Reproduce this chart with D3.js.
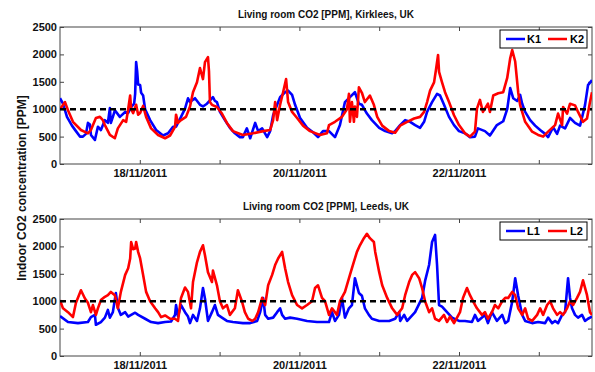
<!DOCTYPE html>
<html><head><meta charset="utf-8">
<script src="https://cdn.jsdelivr.net/npm/d3@7"></script>
<style>
html,body{margin:0;padding:0;background:#fff;}
text{font-family:"Liberation Sans",Arial,sans-serif;}
</style></head>
<body><svg id="chart" width="595" height="372"></svg>
<script>
// hours since 17/11/2011 00:00 and CO2 ppm values
const k1Hours = [0,0.9,2.1,3.6,4.8,6.0,6.9,7.8,8.4,9.0,9.3,10.5,11.4,12.3,13.5,14.4,15.0,15.3,15.9,16.5,18.0,19.6,20.5,21.4,22.3,22.6,22.9,23.2,23.5,24.1,24.4,25.0,25.6,27.1,28.9,31.0,32.5,34.0,34.9,36.4,37.6,38.5,39.1,40.6,42.1,43.0,44.2,46.0,46.6,47.2,48.1,49.6,51.1,52.6,54.1,55.0,56.2,57.2,58.7,59.6,60.8,62.3,63.2,64.1,65.3,66.2,67.7,68.6,69.8,70.7,72.2,74.3,76.1,77.6,79.1,80.9,82.7,84.2,85.7,87.2,88.7,89.9,90.8,92.3,93.8,96.0,97.8,99.9,100.8,102.3,103.8,105.3,106.8,108.3,109.5,110.4,111.9,113.4,114.3,115.5,117.0,118.5,120.0,121.8,123.3,124.8,125.7,127.8,129.3,131.4,133.3,134.5,135.4,136.3,137.5,138.4,139.0,139.9,141.4,142.9,144.4,145.9,146.8,148.3,149.5,150.4,151.9,153.4,154.9,156.4,157.9,158.8,160.0];
const k1Values = [1200,1100,860,700,600,500,500,550,750,720,530,440,680,620,800,750,1020,750,860,980,860,950,930,1040,1100,1280,1860,1700,1450,1440,1300,1250,1000,800,620,520,560,680,680,860,1010,1200,1130,1200,1080,1050,1100,1220,1150,1130,950,800,660,560,490,490,650,470,750,600,650,490,600,890,1080,1220,1310,1340,1260,1080,840,660,580,490,600,600,490,710,1130,1220,1310,1100,1080,920,800,660,600,560,600,710,800,770,710,660,770,950,1130,1280,1250,1080,860,710,600,560,490,500,650,600,520,710,780,1000,1385,1200,1150,1260,1100,950,800,700,620,550,490,670,550,700,650,840,750,700,1075,1440,1530];

const k2Hours = [0,1.5,2.4,3.9,6.3,8.4,9.3,10.8,12.0,12.9,13.5,15.0,16.5,17.4,19.0,19.9,20.5,21.1,21.4,22.0,22.9,23.5,24.1,25.0,25.9,27.4,29.5,31.6,33.1,34.6,34.9,35.5,36.4,37.9,39.1,40.0,41.2,42.1,43.0,43.6,44.5,44.8,45.1,45.7,47.2,48.7,50.2,52.0,55.0,58.1,61.1,63.2,64.1,64.7,65.3,66.2,67.1,68.0,68.6,69.8,71.3,73.1,75.2,78.2,80.3,80.9,82.7,84.8,86.3,86.9,87.2,87.8,88.4,88.7,89.3,89.9,90.8,91.7,93.2,94.4,95.4,96.9,99.0,100.8,102.3,104.4,106.5,108.3,109.5,110.4,111.3,112.5,113.1,113.7,114.0,114.9,115.8,117.0,118.5,120.0,121.8,123.3,124.8,125.4,126.3,127.2,128.7,129.3,130.3,131.8,133.3,134.5,135.4,136.0,136.9,137.8,138.4,139.9,142.0,143.8,145.3,146.8,148.9,149.8,151.0,151.3,152.5,153.4,154.9,155.8,157.3,158.5,159.4,160.0];
const k2Values = [1000,1130,980,770,620,560,620,840,860,800,710,530,470,650,800,770,1000,1250,1000,930,1080,900,930,1060,860,650,530,470,520,680,900,750,800,860,1050,1310,1490,1750,1550,1860,1950,1700,1130,1080,1040,920,750,600,530,560,600,620,800,1130,800,1080,1310,1550,1130,950,840,700,600,530,560,710,770,860,1000,1280,770,1130,770,1050,860,1400,1300,1130,1250,1080,860,700,600,570,700,770,830,860,950,1130,1340,1490,1730,1990,1680,1490,1310,1130,890,710,560,500,590,1010,1170,950,1100,950,1250,1290,1310,1570,1930,2080,1870,1310,1070,770,590,530,500,590,710,920,710,1040,920,1100,1070,950,770,830,1130,1310];

const l1Hours = [0,2.4,5.4,8.4,9.3,10.5,10.8,12.3,13.5,14.4,15.0,15.9,16.8,17.4,18.3,19.6,20.5,21.4,22.6,23.5,25.6,27.4,29.5,31.6,33.4,34.6,34.9,35.5,36.4,37.6,38.5,39.1,40.0,41.2,42.1,43.0,43.6,44.5,45.7,46.6,47.5,48.7,50.2,52.0,55.0,57.2,59.3,60.2,61.1,61.7,62.6,64.1,65.3,66.2,66.8,67.7,69.2,71.3,74.3,77.3,80.9,81.8,82.7,83.9,84.8,85.7,86.9,87.8,88.7,89.9,90.8,91.7,92.9,93.8,96.0,99.0,100.8,102.0,102.3,103.5,104.4,105.3,106.8,108.9,109.8,111.0,111.9,112.8,113.4,114.0,114.9,116.4,117.9,120.0,121.8,123.9,124.8,125.7,127.8,128.7,129.9,131.4,133.0,133.9,134.8,136.0,136.9,137.8,139.0,139.9,142.0,143.8,145.9,146.8,148.0,148.9,149.8,151.0,151.9,152.8,153.4,154.0,154.9,155.8,157.0,157.9,158.8,160.0];
const l1Values = [730,620,600,620,710,750,570,620,700,840,700,800,1150,880,750,800,720,750,790,750,680,620,600,620,630,750,930,720,930,800,720,600,750,640,870,1240,1050,640,800,930,750,700,640,620,600,600,640,800,1060,750,680,700,800,870,750,680,700,680,640,620,620,800,640,750,1060,700,870,930,1420,1150,1100,870,750,680,640,640,680,800,640,750,640,700,800,1060,1370,1660,2080,2210,1660,930,900,800,700,640,640,620,750,640,750,600,800,640,750,600,640,990,1420,1100,750,640,600,620,600,700,600,640,600,750,800,1420,1060,870,750,700,750,640,680,720];

const l2Hours = [0,0.9,2.4,3.9,4.8,6.3,7.5,8.4,9.3,9.9,10.8,11.4,12.3,13.5,14.4,15.3,16.5,17.4,18.3,19.6,20.5,21.1,21.4,22.0,22.6,22.9,23.5,24.1,25.0,25.9,27.1,28.6,29.5,30.4,31.6,33.1,34.6,35.5,36.4,37.6,38.5,39.4,40.0,41.2,42.1,43.0,43.6,44.5,45.7,46.0,47.2,48.1,49.0,50.2,51.1,52.6,53.5,54.7,55.6,56.6,57.8,58.7,59.6,60.8,61.7,62.6,63.8,64.7,65.6,66.8,67.7,68.6,69.8,71.3,72.8,74.3,75.8,76.7,77.6,78.8,79.7,80.9,81.8,83.3,84.2,85.7,87.2,88.4,89.3,90.2,91.4,92.3,93.2,94.4,94.8,96.0,96.9,98.4,99.9,101.4,102.9,103.8,105.0,105.9,106.8,108.0,108.9,109.8,111.0,111.9,112.8,114.0,115.5,116.4,117.3,118.5,120.3,121.2,122.4,123.3,124.2,125.4,126.9,127.8,128.7,129.9,130.8,131.8,133.0,133.9,134.8,136.0,136.9,137.8,139.0,139.9,140.8,142.0,143.5,144.4,145.3,146.5,147.4,148.3,149.5,150.4,151.3,152.5,153.4,154.3,155.5,156.4,157.3,158.5,159.4,160.0];
const l2Values = [1020,870,800,710,970,1200,1050,970,800,930,750,870,1020,1080,1110,1170,1110,870,1170,1480,1600,1780,2080,1950,1960,2080,1900,1780,1480,1170,1000,870,800,710,740,680,680,640,1060,1250,1170,870,1350,1710,1900,2020,1840,1530,1350,1560,1290,1000,870,930,750,870,1200,1000,800,680,640,680,800,1060,930,1290,1480,1660,1780,1900,1600,1350,1110,930,870,930,1000,1240,1290,1060,1000,750,870,750,1000,1170,1480,1720,1900,2020,2150,2230,2150,2080,1900,1530,1290,1060,870,750,870,1110,1350,1480,1530,1420,1240,1000,800,870,680,640,750,620,720,600,800,1060,1240,1110,1000,870,750,800,680,800,930,870,1000,1060,1060,1170,1110,870,750,870,680,640,750,870,750,930,1000,870,750,800,750,870,1000,930,1060,1170,1380,1110,800,750];

const yTicks = [0,500,1000,1500,2000,2500];
const threshold = 1000;
const titles = ["Living room CO2 [PPM], Kirklees, UK", "Living room CO2 [PPM], Leeds, UK"];
const legendNames = [["K1","K2"],["L1","L2"]];
const yLabel = "Indoor CO2 concentration [PPM]";

const start = new Date(2011, 10, 17);
const toDate = h => new Date(start.getTime() + h * 3600e3);
const dayTicks = d3.range(1, 7).map(d => toDate(d * 24));

const svg = d3.select("#chart");
const left = 60, right = 592;
const x = d3.scaleTime().domain([toDate(0), toDate(160)]).range([left, right]);

function panel(top, bottom, title, names, s1, s2) {
  const y = d3.scaleLinear().domain([0, 2500]).range([bottom, top]);
  const g = svg.append("g");
  g.append("rect").attr("x", left).attr("y", top).attr("width", right - left).attr("height", bottom - top)
    .attr("fill", "none").attr("stroke", "#444").attr("stroke-width", 1);
  const fmt = d => (d.getDate() % 2 === 0) ? d3.timeFormat("%d/%m/%Y")(d) : "";
  g.append("g").attr("transform", `translate(0,${bottom})`)
    .call(d3.axisBottom(x).tickValues(dayTicks).tickFormat(fmt).tickSize(-4).tickPadding(5));
  g.append("g").attr("transform", `translate(0,${top})`)
    .call(d3.axisTop(x).tickValues(dayTicks).tickFormat("").tickSize(-4));
  g.append("g").attr("transform", `translate(${left},0)`)
    .call(d3.axisLeft(y).tickValues(yTicks).tickFormat(d3.format("d")).tickSize(-4).tickPadding(3));
  g.append("g").attr("transform", `translate(${right},0)`)
    .call(d3.axisRight(y).tickValues(yTicks).tickFormat("").tickSize(-4));
  g.selectAll(".domain").remove();
  g.selectAll(".tick line").attr("stroke", "#444");
  g.selectAll(".tick text").attr("font-size", 11).attr("font-weight", "bold").attr("fill", "#111")
    .style("font-family", "'Liberation Sans', Arial, sans-serif");

  const line = d3.line().x(d => x(toDate(d[0]))).y(d => y(d[1]));
  const clip = "clip" + top;
  svg.append("clipPath").attr("id", clip).append("rect")
    .attr("x", left).attr("y", top).attr("width", right - left).attr("height", bottom - top);
  const cg = g.append("g").attr("clip-path", `url(#${clip})`);
  cg.append("path").datum(d3.zip(s1[0], s1[1])).attr("d", line)
    .attr("fill", "none").attr("stroke", "#0000ff").attr("stroke-width", 2.6).attr("stroke-linejoin", "round");
  cg.append("path").datum(d3.zip(s2[0], s2[1])).attr("d", line)
    .attr("fill", "none").attr("stroke", "#ff0000").attr("stroke-width", 2.6).attr("stroke-linejoin", "round");
  cg.append("line").attr("x1", left).attr("x2", right).attr("y1", y(threshold)).attr("y2", y(threshold))
    .attr("stroke", "#000").attr("stroke-width", 2.5).attr("stroke-dasharray", "6,4");

  g.append("text").attr("x", (left + right) / 2).attr("y", top - 9).attr("text-anchor", "middle")
    .attr("font-size", 10).attr("font-weight", "bold").attr("fill", "#111").text(title);

  const lx = right - 92, ly = top + 3;
  const lg = g.append("g").attr("transform", `translate(${lx},${ly})`);
  lg.append("rect").attr("width", 87).attr("height", 18).attr("fill", "#fff").attr("stroke", "#000").attr("stroke-width", 1);
  lg.append("line").attr("x1", 6).attr("x2", 25).attr("y1", 9).attr("y2", 9).attr("stroke", "#0000ff").attr("stroke-width", 2.5);
  lg.append("text").attr("x", 27).attr("y", 13).attr("font-size", 11).attr("font-weight", "bold").text(names[0]);
  lg.append("line").attr("x1", 48).attr("x2", 67).attr("y1", 9).attr("y2", 9).attr("stroke", "#ff0000").attr("stroke-width", 2.5);
  lg.append("text").attr("x", 70).attr("y", 13).attr("font-size", 11).attr("font-weight", "bold").text(names[1]);
}

panel(27, 164, titles[0], legendNames[0], [k1Hours, k1Values], [k2Hours, k2Values]);
panel(219, 356, titles[1], legendNames[1], [l1Hours, l1Values], [l2Hours, l2Values]);

svg.append("text").attr("transform", "translate(26,188) rotate(-90)").attr("text-anchor", "middle")
  .attr("font-size", 12).attr("font-weight", "bold").attr("fill", "#111").text(yLabel);
</script>
</body></html>
